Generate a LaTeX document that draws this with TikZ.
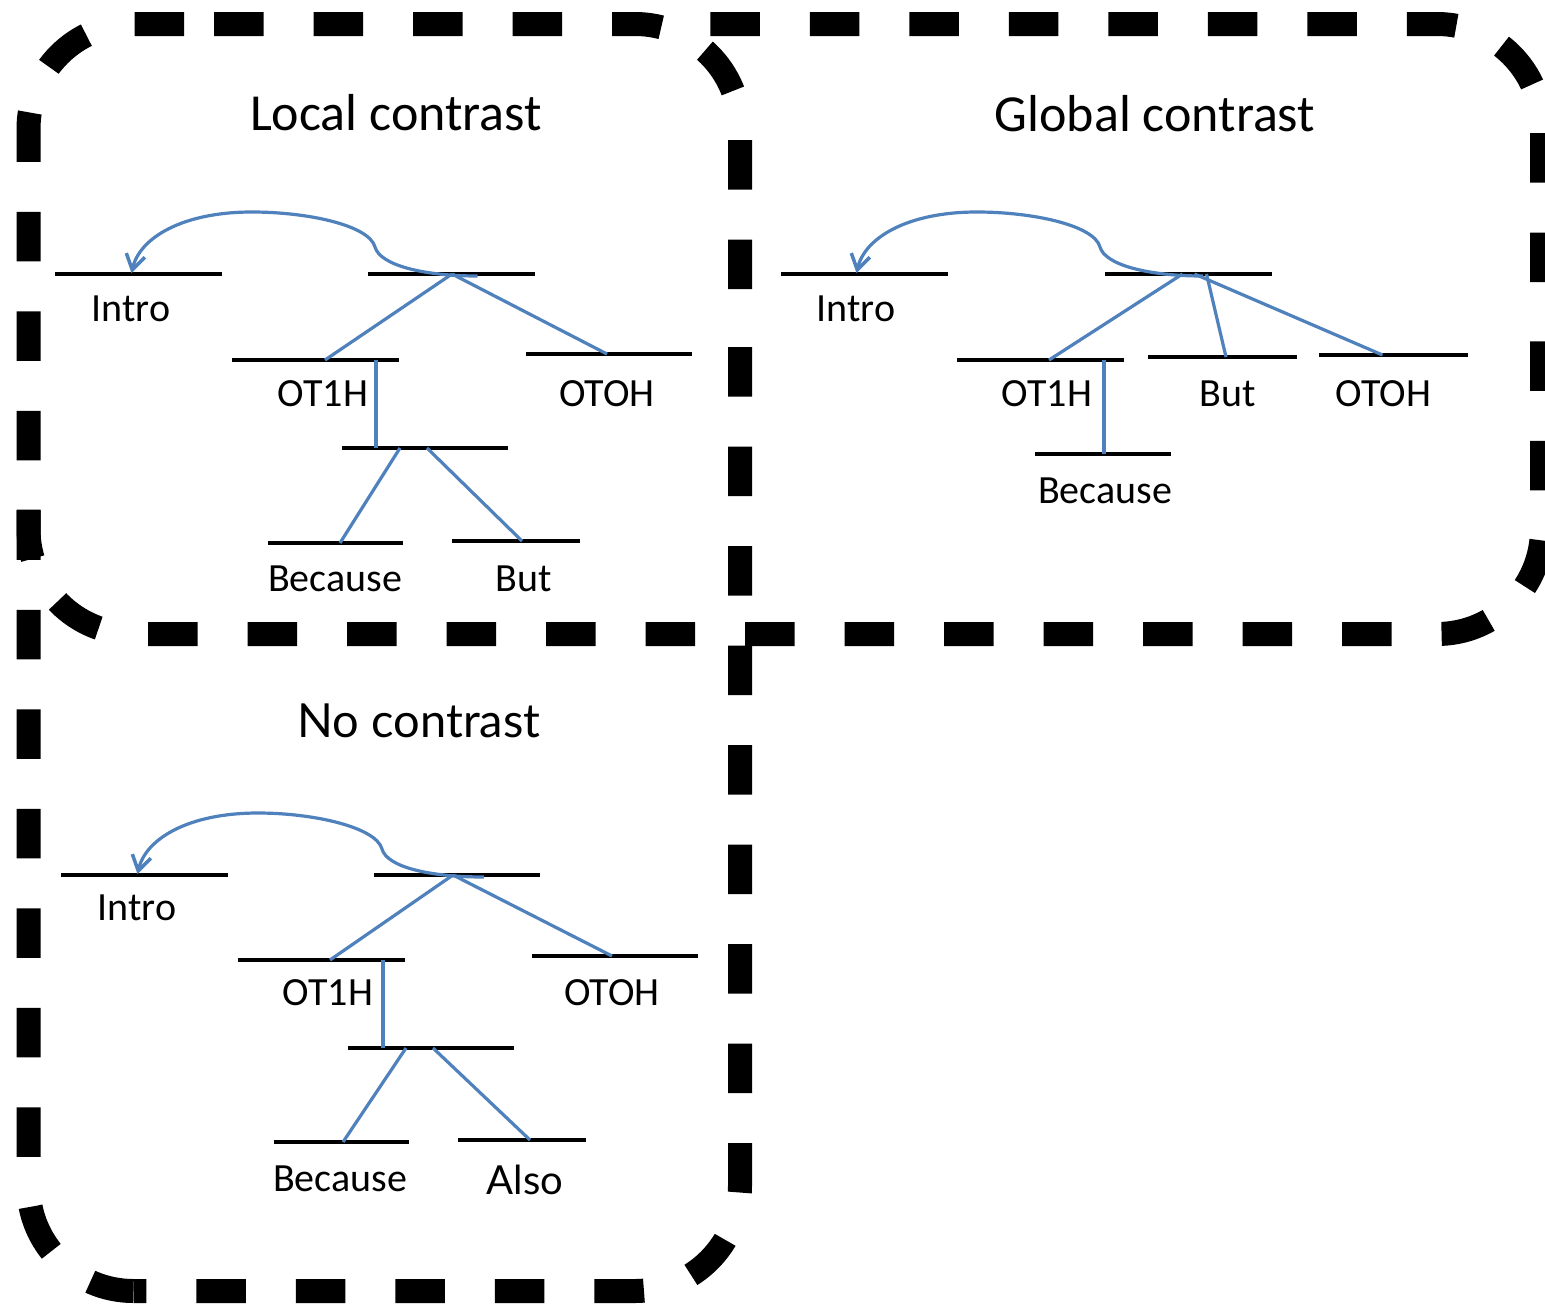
\documentclass[tikz,border=0pt]{standalone}
\usepackage{fontspec}
\setmainfont{Carlito}
\newfontfamily\gillfont{Lato}
\usetikzlibrary{arrows.meta}
\definecolor{lblue}{HTML}{4F81BD}
\tikzset{
  frame/.style={line width=24pt, dash pattern=on 49.5pt off 50pt, dash phase=#1, rounded corners=105pt, line cap=butt},
  barline/.style={draw=black, line width=4pt},
  bar/.style={minimum width=#1, minimum height=0pt, inner sep=0pt, outer sep=0pt,
    append after command={(\tikzlastnode.west) edge[barline] (\tikzlastnode.east)}},
  link/.style={draw=lblue, line width=3.2pt},
  arc/.style={link, -{Straight Barb[length=15pt,width=19pt,line width=3.5pt]}},
  lbl/.style={anchor=base, inner sep=0pt, font=\fontsize{40pt}{48pt}\selectfont},
  ttl/.style={anchor=base, inner sep=0pt, font=\fontsize{52pt}{60pt}\selectfont},
  gtl/.style={anchor=base, inner sep=0pt, font=\gillfont\fontsize{47pt}{56pt}\selectfont},
  glbl/.style={anchor=base, inner sep=0pt, font=\gillfont\fontsize{40pt}{48pt}\selectfont},
}
\begin{document}
\begin{tikzpicture}[x=1pt,y=-1pt]
\useasboundingbox (0,0) rectangle (1545,1304);
\fill[white] (0,0) rectangle (1545,1304);

% ---------- frames ----------
% left column (Local contrast + No contrast)
\draw[frame=0pt]    (214,24) -- (740,24) -- (740,300);
\draw[frame=52.5pt] (740,300) -- (740,1291) -- (133.5,1291);
\draw[frame=5pt]    (133.5,1291) -- (28.5,1291) -- (28.5,24) -- (214,24);
% middle line and Global contrast frame
\draw[frame=95pt]   (28.5,505) -- (28.5,634) -- (1542,634) -- (1542,300);
\draw[frame=81.5pt] (1542,300) -- (1542,24) -- (700,24);

% ---------- Local contrast ----------
\node[ttl] (L-title) at (396,130) {Local contrast};
\node[bar=167] (L-intro) at (138.5,274) {};
\node[bar=167] (L-root)  at (451.5,274) {};
\node[bar=167] (L-ot1h)  at (315.5,360) {};
\node[bar=166] (L-otoh)  at (609,354) {};
\node[bar=166] (L-sub)   at (425,448) {};
\node[bar=135] (L-bec)   at (335.5,543) {};
\node[bar=128] (L-but)   at (516,541) {};
\node[lbl] (L-intro-t) at (131,321) {Intro};
\node[lbl] (L-ot1h-t)  at (323,406) {OT1H};
\node[lbl] (L-otoh-t)  at (607,406) {OTOH};
\node[lbl] (L-bec-t)   at (335,591) {Because};
\node[lbl] (L-but-t)   at (524,591) {But};
\draw[link] ([xshift=0.5pt]L-root.center) -- ([xshift=9.5pt]L-ot1h.center);
\draw[link] ([xshift=0.5pt]L-root.center) -- ([xshift=-2pt]L-otoh.center);
\draw[link] ([xshift=60.5pt]L-ot1h.center) -- ([xshift=-49pt]L-sub.center);
\draw[link] ([xshift=-25pt]L-sub.center) -- ([xshift=4.5pt]L-bec.center);
\draw[link] ([xshift=2pt]L-sub.center) -- ([xshift=6pt]L-but.center);
\draw[arc] ([xshift=26pt,yshift=-2pt]L-root.center) .. controls +(-55,0) and +(5,18) .. (375,247)
  .. controls +(-6,-22) and +(55,0) .. (252,212)
  .. controls +(-70,0) and +(8,-35) .. ([xshift=-7pt,yshift=1pt]L-intro.center);

% ---------- Global contrast ----------
\node[ttl] (G-title) at (1155,131) {Global contrast};
\node[bar=167] (G-intro) at (864,274) {};
\node[bar=167] (G-root)  at (1188.5,274) {};
\node[bar=167] (G-ot1h)  at (1040.5,360) {};
\node[bar=149] (G-but)   at (1222,357) {};
\node[bar=149] (G-otoh)  at (1393.5,355) {};
\node[bar=136] (G-bec)   at (1103,454) {};
\node[lbl] (G-intro-t) at (856,321) {Intro};
\node[lbl] (G-ot1h-t)  at (1047,406) {OT1H};
\node[lbl] (G-but-t)   at (1227.5,406) {But};
\node[lbl] (G-otoh-t)  at (1383.5,406) {OTOH};
\node[lbl] (G-bec-t)   at (1105,503) {Because};
\draw[link] ([xshift=-6pt]G-root.center) -- ([xshift=8.5pt]G-ot1h.center);
\draw[link] ([xshift=18pt]G-root.center) -- ([xshift=4pt]G-but.center);
\draw[link] ([xshift=6pt]G-root.center) -- ([xshift=-11pt]G-otoh.center);
\draw[link] ([xshift=63.5pt]G-ot1h.center) -- ([xshift=1pt]G-bec.center);
\draw[arc] ([xshift=14.5pt,yshift=-2pt]G-root.center) .. controls +(-55,0) and +(5,18) .. (1100,247)
  .. controls +(-6,-22) and +(55,0) .. (977,212)
  .. controls +(-70,0) and +(8,-35) .. ([xshift=-7.5pt,yshift=1pt]G-intro.center);

% ---------- No contrast ----------
\node[gtl] (N-title) at (419,737) {No contrast};
\node[bar=167] (N-intro) at (144.5,875) {};
\node[bar=166] (N-root)  at (457,875) {};
\node[bar=167] (N-ot1h)  at (321,960) {};
\node[bar=166] (N-otoh)  at (615,956) {};
\node[bar=166] (N-sub)   at (431,1048) {};
\node[bar=135] (N-bec)   at (341.5,1142) {};
\node[bar=128] (N-also)  at (521.5,1140) {};
\node[lbl] (N-intro-t) at (137,920) {Intro};
\node[lbl] (N-ot1h-t)  at (328,1005) {OT1H};
\node[lbl] (N-otoh-t)  at (612,1005) {OTOH};
\node[lbl] (N-bec-t)   at (340,1191) {Because};
\node[glbl] (N-also-t) at (525,1194) {Also};
\draw[link] ([xshift=-4pt]N-root.center) -- ([xshift=9pt]N-ot1h.center);
\draw[link] ([xshift=-4pt]N-root.center) -- ([xshift=-3pt]N-otoh.center);
\draw[link] ([xshift=62pt]N-ot1h.center) -- ([xshift=-48pt]N-sub.center);
\draw[link] ([xshift=-25pt]N-sub.center) -- ([xshift=1.5pt]N-bec.center);
\draw[link] ([xshift=2pt]N-sub.center) -- ([xshift=8.5pt]N-also.center);
\draw[arc] ([xshift=27pt,yshift=-2pt]N-root.center) .. controls +(-55,0) and +(5,18) .. (382,849)
  .. controls +(-6,-22) and +(55,0) .. (258,813)
  .. controls +(-70,0) and +(8,-35) .. ([xshift=-7pt,yshift=1pt]N-intro.center);
\end{tikzpicture}
\end{document}
